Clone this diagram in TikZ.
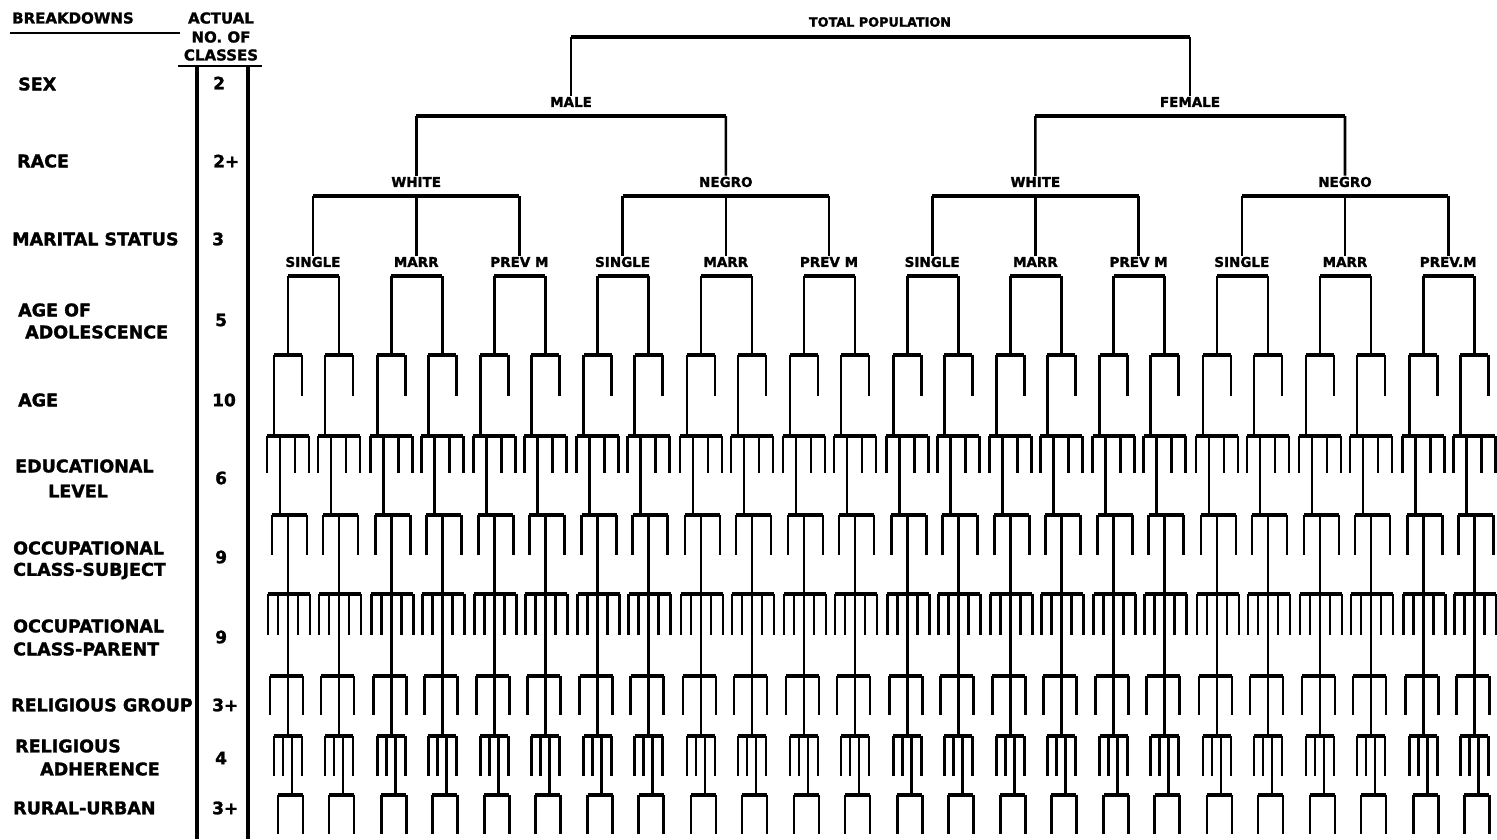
\documentclass[tikz,border=0pt]{standalone}
\usepackage{fontspec}
\setmainfont{DejaVu Sans}[BoldFeatures={FakeBold=1.5}]
\begin{document}
\begin{tikzpicture}[x=1pt,y=-1pt,
  lab/.style={font=\fontsize{17.5}{19}\selectfont\bfseries, anchor=west, inner sep=0pt},
  num/.style={font=\fontsize{17}{18}\selectfont\bfseries, anchor=west, inner sep=0pt},
  hdr/.style={font=\fontsize{15}{16}\selectfont\bfseries, inner sep=0pt},
  tl/.style={font=\fontsize{13.5}{14}\selectfont\bfseries, inner sep=1pt},
  bar/.style={line width=4.5pt},
  leg/.style={line width=2.6pt},
  rulel/.style={line width=2.8pt},
]
\useasboundingbox (0,0) rectangle (1497,839);
% ---------- header ----------
\node[hdr,anchor=west] (breakdowns) at (12,18) {BREAKDOWNS};
\coordinate (ul1) at (10,33);
\coordinate (ul2) at (180,33);
\draw[rulel] (ul1) -- (ul2);
\node[hdr] (actual) at (221,18) {ACTUAL};
\node[hdr] (noof) at (221,37) {NO.\ OF};
\node[hdr] (classes) at (221,55) {CLASSES};
\coordinate (cl1) at (178,66);
\coordinate (cl2) at (262,66);
\draw[rulel] (cl1) -- (cl2);
\coordinate (colA1) at (197,66);
\coordinate (colA2) at (197,839);
\coordinate (colB1) at (248,66);
\coordinate (colB2) at (248,839);
\draw[line width=3.2pt] (colA1) -- (colA2);
\draw[line width=3.2pt] (colB1) -- (colB2);
% ---------- left labels ----------
\node[lab] (sex) at (18,84) {SEX};
\node[lab] (race) at (17,161) {RACE};
\node[lab] (marital) at (12,239) {MARITAL STATUS};
\node[lab] (ageof) at (18,310) {AGE OF};
\node[lab] (adol) at (25,332) {ADOLESCENCE};
\node[lab] (age) at (18,400) {AGE};
\node[lab] (educ) at (15,466) {EDUCATIONAL};
\node[lab] (level) at (48,491) {LEVEL};
\node[lab] (occ1) at (13,548) {OCCUPATIONAL};
\node[lab] (subj) at (13,571) {CLASS-SUBJECT};
\node[lab] (occ2) at (13,626) {OCCUPATIONAL};
\node[lab] (par) at (13,649) {CLASS-PARENT};
\node[lab] (relg) at (11,705) {RELIGIOUS GROUP};
\node[lab] (rel) at (15,746) {RELIGIOUS};
\node[lab] (adh) at (40,769) {ADHERENCE};
\node[lab] (rural) at (13,808) {RURAL-URBAN};
% ---------- numbers ----------
\node[num] (n1) at (213,83) {2};
\node[num] (n2) at (213,161) {2+};
\node[num] (n3) at (212,239) {3};
\node[num] (n4) at (215,320) {5};
\node[num] (n5) at (212,400) {10};
\node[num] (n6) at (215,478) {6};
\node[num] (n7) at (215,557) {9};
\node[num] (n8) at (215,637) {9};
\node[num] (n9) at (212,705) {3+};
\node[num] (n10) at (215,758) {4};
\node[num] (n11) at (212,808) {3+};
% ---------- upper tree ----------
\node[tl,font=\fontsize{12.8}{14}\selectfont\bfseries] (total) at (880,22) {TOTAL POPULATION};
\node[tl] (male) at (571,102) {MALE};
\node[tl] (female) at (1190,102) {FEMALE};
\coordinate (tL) at (571,37);
\coordinate (tR) at (1190,37);
\draw[bar] (tL) -- (tR);
\draw[leg] (tL) -- (male.north);
\draw[leg] (tR) -- (female.north);
\foreach \r/\t in {0/WHITE,1/NEGRO,2/WHITE,3/NEGRO}{
  \pgfmathsetmacro{\x}{313+103.2*(3*\r+1)}
  \node[tl] (r\r) at (\x,182) {\t};
  \draw[bar] ({\x-103.2},196) -- ({\x+103.2},196);
}
\coordinate (mL) at (416.2,116);
\coordinate (mR) at (725.8,116);
\coordinate (fL) at (1035.4,116);
\coordinate (fR) at (1345,116);
\draw[bar] (mL) -- (mR);
\draw[bar] (fL) -- (fR);
\draw[leg] (mL) -- (r0.north);
\draw[leg] (mR) -- (r1.north);
\draw[leg] (fL) -- (r2.north);
\draw[leg] (fR) -- (r3.north);
\foreach \g/\t in {0/SINGLE,1/MARR,2/PREV M,3/SINGLE,4/MARR,5/PREV M,6/SINGLE,7/MARR,8/PREV M,9/SINGLE,10/MARR,11/PREV.M}{
  \pgfmathsetmacro{\m}{313+103.2*\g}
  \node[tl] (ms\g) at (\m,262) {\t};
  \draw[leg] (\m,196) -- (ms\g.north);
  \draw[bar] ({\m-25},276) -- ({\m+26},276);
  \foreach \o in {-25,26}{
    \pgfmathsetmacro{\cx}{\m+\o}
    \begin{scope}[xshift=\cx pt]
      \draw[leg] (0,276) -- (0,355);
      \draw[bar] (-14,355) -- (14,355);
      \draw[leg] (-14,355) -- (-14,436);
      \draw[leg] (14,355) -- (14,396);
      \draw[bar] (-21,436) -- (21,436);
      \foreach \d in {-21,7,21} \draw[leg] (\d,436) -- (\d,473);
      \draw[leg] (-8,436) -- (-8,515);
      \draw[bar] (-16,515) -- (19,515);
      \foreach \d in {-16,19} \draw[leg] (\d,515) -- (\d,555);
      \draw[leg] (0,515) -- (0,594);
      \draw[bar] (-20,594) -- (22,594);
      \foreach \d in {-20,-10,10,22} \draw[leg] (\d,594) -- (\d,635);
      \draw[leg] (0,594) -- (0,676);
      \draw[bar] (-18,676) -- (15,676);
      \foreach \d in {-18,15} \draw[leg] (\d,676) -- (\d,715);
      \draw[leg] (0,676) -- (0,736);
      \draw[bar] (-14,736) -- (14,736);
      \foreach \d in {-14,-5,14} \draw[leg] (\d,736) -- (\d,776);
      \draw[leg] (4,736) -- (4,795);
      \draw[bar] (-10,795) -- (15,795);
      \foreach \d in {-10,15} \draw[leg] (\d,795) -- (\d,834);
    \end{scope}
  }
}
\end{tikzpicture}
\end{document}
